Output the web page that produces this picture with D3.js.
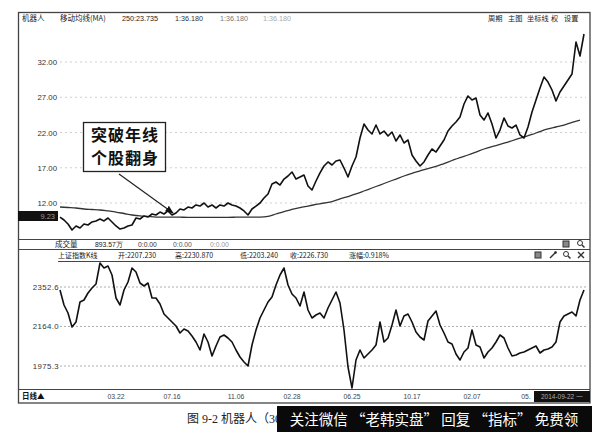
<!DOCTYPE html>
<html><head><meta charset="utf-8">
<script src="https://cdn.jsdelivr.net/npm/d3@7/dist/d3.min.js"></script>
<style>body{margin:0;background:#fff}svg{display:block}</style>
</head><body>
<svg id="c" width="600" height="432"></svg>
<script>
// ---- data ----
const priceClose = [10.01,9.59,9.02,8.17,8.74,8.45,9.02,8.88,9.31,9.45,9.73,9.45,9.87,9.31,8.74,8.31,8.45,8.74,8.88,9.87,
9.73,10.16,10.01,10.44,10.30,10.72,10.44,10.87,10.30,10.58,11.15,11.01,11.43,11.29,11.72,11.57,12.00,11.43,11.72,11.29,
11.72,11.57,12.00,11.72,11.57,11.29,10.87,10.30,11.15,11.57,12.00,12.71,13.28,14.70,14.98,14.55,15.40,15.83,16.40,15.40,
15.69,15.97,14.41,13.84,15.12,16.26,17.25,17.82,17.39,17.96,18.10,16.96,15.69,17.25,18.52,21.22,23.21,22.35,21.79,23.06,
21.79,22.21,21.50,22.07,20.79,21.65,20.51,20.94,18.81,17.96,17.25,17.82,18.81,19.66,19.23,20.09,20.94,22.21,22.92,23.49,
24.20,26.04,27.18,26.61,26.89,24.48,23.77,24.77,23.21,21.22,22.35,24.06,22.92,22.64,23.06,21.65,21.22,22.78,24.91,26.61,
28.31,29.87,29.16,28.03,26.47,27.74,28.60,29.45,30.30,34.84,32.85,35.97];
// 250-day moving average, one value every 2 samples
const ma250 = [11.43,11.36,11.29,11.15,11.08,11.01,10.87,10.72,10.51,10.30,10.16,10.09,10.01,10.01,10.01,9.99,9.97,9.97,9.97,9.97,
9.97,9.97,9.99,10.01,10.01,10.01,10.09,10.44,10.79,11.08,11.36,11.57,11.79,12.00,12.21,12.57,12.92,13.28,13.70,14.13,
14.55,14.98,15.40,15.83,16.21,16.54,16.89,17.18,17.60,18.03,18.45,18.81,19.23,19.66,20.01,20.30,20.65,21.01,21.36,21.72,
22.14,22.50,22.78,23.06,23.42,23.77];
const indexClose = [2338.3,2266.6,2228.4,2161.6,2185.4,2281.0,2290.5,2323.9,2347.8,2366.9,2467.2,2443.3,2452.9,2409.9,2300.1,2266.6,2338.3,2376.5,2443.3,2424.2,
2371.7,2357.4,2371.7,2300.1,2300.1,2271.4,2223.6,2204.5,2185.4,2166.3,2132.9,2152.0,2142.5,2118.6,2089.9,2051.7,2128.2,2089.9,2023.1,2070.8,
2113.8,2123.4,2109.0,2089.9,2051.7,2018.3,1994.4,1975.3,2075.6,2147.2,2204.5,2242.8,2281.0,2304.8,2362.2,2409.9,2443.3,2362.2,2319.2,2300.1,
2261.9,2328.7,2242.8,2204.5,2218.9,2228.4,2204.5,2252.3,2290.5,2328.7,2276.2,2147.2,1970.5,1870.2,2004.0,2051.7,2013.5,2032.6,2051.7,2075.6,
2185.4,2089.9,2109.0,2171.1,2242.8,2166.3,2214.1,2223.6,2185.4,2137.7,2113.8,2099.5,2190.2,2214.1,2238.0,2171.1,2132.9,2089.9,2080.4,2032.6,
2004.0,2042.2,2061.3,2147.2,2075.6,2066.0,2013.5,2042.2,2061.3,2089.9,2123.4,2109.0,2061.3,2023.1,2027.8,2037.4,2042.2,2051.7,2061.3,2070.8,
2037.4,2051.7,2056.5,2066.0,2089.9,2185.4,2214.1,2223.6,2233.2,2214.1,2290.5,2338.3];
const priceTicks = [32, 27, 22, 17, 12];
const indexTicks = [2352.6, 2164.0, 1975.3];
const dateLabels = ["03.22","07.16","11.06","02.28","06.25","10.17","02.07","05."];
const dateIdx = [14, 28, 44, 58, 73, 88, 103, 116.5];
const headerItems = ["机器人","移动均线(MA)","250:23.735","1:36.180","1:36.180","1:36.180"];
const menuItems = ["周期","主图","坐标线","权","设置"];
const volItems = ["成交量","893.57万","0:0.00","0:0.00","0:0.00"];
const idxItems = ["上证指数K线","开:2207.230","高:2230.870","低:2203.240","收:2226.730","涨幅:0.918%"];
const note = ["突破年线","个股翻身"];

// ---- drawing ----
const svg = d3.select("#c");
const N = priceClose.length;
const x = d3.scaleLinear().domain([0, N-1]).range([60, 584]);
const yP = d3.scaleLinear().domain([12, 32]).range([203, 62]);
const yI = d3.scaleLinear().domain([1975.3, 2352.6]).range([366, 287]);
const num = "'Liberation Sans', Arial, sans-serif";
const cjk = "'Noto Sans CJK SC', sans-serif";

const defs = svg.append("defs");
defs.append("marker").attr("id","arr").attr("viewBox","0 0 10 10")
  .attr("refX",9).attr("refY",5).attr("markerWidth",7).attr("markerHeight",7).attr("orient","auto")
  .append("path").attr("d","M0,1 L10,5 L0,9 z").attr("fill","#111");
defs.append("clipPath").attr("id","capclip").append("rect").attr("x",0).attr("y",404).attr("width",277).attr("height",28);

// frame
const frame = svg.append("g").attr("stroke","#444").attr("fill","none");
frame.append("rect").attr("x",18.5).attr("y",12.5).attr("width",571.5).attr("height",390.5).attr("stroke-width",1.3);
[239,249,389].forEach(v=>frame.append("line").attr("x1",18).attr("x2",590).attr("y1",v+0.5).attr("y2",v+0.5).attr("stroke-width",1.2));
frame.append("line").attr("x1",58).attr("x2",590).attr("y1",261.5).attr("y2",261.5).attr("stroke-width",1);

// header
const hx = [22, 60, 122, 175, 220, 263];
const hc = ["#222","#222","#222","#333","#777","#aaa"];
svg.append("g").selectAll("text").data(headerItems).join("text")
  .attr("x",(d,i)=>hx[i]).attr("y",21).attr("fill",(d,i)=>hc[i])
  .attr("font-family",(d,i)=>i<2?cjk:num).attr("font-size",(d,i)=>i<2?7.5:7.2).text(d=>d);
const mx = [488, 508, 527, 551, 564];
svg.append("g").selectAll("text").data(menuItems).join("text")
  .attr("x",(d,i)=>mx[i]).attr("y",21).attr("fill","#222").attr("font-family",cjk).attr("font-size",7.2).text(d=>d);

// price grid + ticks
const gP = svg.append("g");
gP.selectAll("line").data(priceTicks).join("line")
  .attr("x1",60).attr("x2",586).attr("y1",d=>yP(d)).attr("y2",d=>yP(d))
  .attr("stroke","#c4c4c4").attr("stroke-dasharray","2,3").attr("stroke-width",0.8);
gP.selectAll("text").data(priceTicks).join("text")
  .attr("x",57).attr("y",d=>yP(d)+3).attr("text-anchor","end").attr("fill","#333")
  .attr("font-family",num).attr("font-size",7.8).text(d=>d.toFixed(2));

// current-value box
svg.append("rect").attr("x",18).attr("y",211).attr("width",40).attr("height",10).attr("fill","#111");
svg.append("text").attr("x",55).attr("y",219).attr("text-anchor","end").attr("fill","#999")
  .attr("font-family",num).attr("font-size",7.5).text((9.23).toFixed(2));

// MA line
svg.append("path").datum(ma250)
  .attr("d", d3.line().x((d,i)=>x(i*2)).y(d=>yP(d)).curve(d3.curveMonotoneX))
  .attr("fill","none").attr("stroke","#333").attr("stroke-width",1.3);
// price line
svg.append("path").datum(priceClose)
  .attr("d", d3.line().x((d,i)=>x(i)).y(d=>yP(d)))
  .attr("fill","none").attr("stroke","#111").attr("stroke-width",1.6).attr("stroke-linejoin","round");

// annotation
svg.append("rect").attr("x",83.5).attr("y",122.5).attr("width",82).attr("height",49)
  .attr("fill","#fff").attr("stroke","#222").attr("stroke-width",1.3);
svg.append("g").selectAll("text").data(note).join("text")
  .attr("x",125).attr("y",(d,i)=>140.5+i*23.5).attr("text-anchor","middle").attr("fill","#111")
  .attr("font-family",cjk).attr("font-weight",700).attr("font-size",16).attr("letter-spacing",1)
  .text(d=>d);
svg.append("line").attr("x1",119).attr("y1",174).attr("x2",173).attr("y2",213)
  .attr("stroke","#222").attr("stroke-width",1.2).attr("marker-end","url(#arr)");

// volume row
const vx = [55, 95, 138, 173, 210];
const vc = ["#222","#222","#333","#555","#999"];
svg.append("g").selectAll("text").data(volItems).join("text")
  .attr("x",(d,i)=>vx[i]).attr("y",247).attr("fill",(d,i)=>vc[i])
  .attr("font-family",(d,i)=>i==0?cjk:num).attr("font-size",(d,i)=>i==0?7.5:6.8).text(d=>d);

// index header row
const ix = [58, 118, 175, 240, 290, 349];
svg.append("g").selectAll("text").data(idxItems).join("text")
  .attr("x",(d,i)=>ix[i]).attr("y",258).attr("fill","#222")
  .attr("font-family",cjk).attr("font-size",7).text(d=>d);

// small icons
function icon(cx, cy, kind){
  const g = svg.append("g").attr("stroke","#333").attr("fill","none").attr("stroke-width",1);
  if(kind==="save"){ g.append("rect").attr("x",cx-3).attr("y",cy-3).attr("width",6).attr("height",6).attr("fill","#888"); }
  else if(kind==="zoom"){ g.append("circle").attr("cx",cx-1).attr("cy",cy-1).attr("r",2.5); g.append("line").attr("x1",cx+1).attr("y1",cy+1).attr("x2",cx+3.5).attr("y2",cy+3.5).attr("stroke-width",1.5); }
  else if(kind==="x"){ g.append("path").attr("d",`M${cx-3},${cy-3}L${cx+3},${cy+3}M${cx+3},${cy-3}L${cx-3},${cy+3}`).attr("stroke-width",1.4); }
  else { g.append("path").attr("d",`M${cx-3},${cy+3}L${cx+2},${cy-2}`).attr("stroke-width",1.4); g.append("circle").attr("cx",cx+2.5).attr("cy",cy-2.5).attr("r",1).attr("fill","#333"); }
}
icon(566,244,"save"); icon(581,244,"zoom");
icon(538,255,"save"); icon(553,255,"wand"); icon(567,255,"zoom"); icon(581,255,"x");

// index grid + ticks
const gI = svg.append("g");
gI.selectAll("line").data(indexTicks).join("line")
  .attr("x1",60).attr("x2",586).attr("y1",d=>yI(d)).attr("y2",d=>yI(d))
  .attr("stroke","#9a9a9a").attr("stroke-dasharray","2,2").attr("stroke-width",0.8);
gI.selectAll("text").data(indexTicks).join("text")
  .attr("x",59).attr("y",d=>yI(d)+3).attr("text-anchor","end").attr("fill","#333")
  .attr("font-family",num).attr("font-size",7.8).attr("letter-spacing",0.4).text(d=>d.toFixed(1));

// index line
svg.append("path").datum(indexClose)
  .attr("d", d3.line().x((d,i)=>x(i)).y(d=>yI(d)))
  .attr("fill","none").attr("stroke","#111").attr("stroke-width",1.6).attr("stroke-linejoin","round");

// date axis
svg.append("text").attr("x",22).attr("y",399).attr("fill","#111").attr("font-family",cjk)
  .attr("font-weight",700).attr("font-size",7.5).text("日线▲");
svg.append("g").selectAll("text").data(dateLabels).join("text")
  .attr("x",(d,i)=>x(dateIdx[i])).attr("y",399).attr("text-anchor","middle").attr("fill","#444")
  .attr("font-family",num).attr("font-size",6.8).text(d=>d);
svg.append("rect").attr("x",534).attr("y",391).attr("width",56).attr("height",11).attr("fill","#111");
svg.append("text").attr("x",562).attr("y",399).attr("text-anchor","middle").attr("fill","#aaa")
  .attr("font-family",num).attr("font-size",6.5).text("2014-09-22 一");

// caption + banner
svg.append("text").attr("x",187).attr("y",423).attr("fill","#222").attr("clip-path","url(#capclip)")
  .attr("font-family","'Liberation Serif', 'Noto Sans CJK SC', serif").attr("font-size",12).text("图 9-2   机器人（30002");
svg.append("rect").attr("x",277).attr("y",406).attr("width",315).attr("height",26).attr("fill","#0a0a0a");
svg.append("text").attr("x",434).attr("y",425).attr("text-anchor","middle").attr("fill","#fff")
  .attr("font-family",cjk).attr("font-size",14.5).text("关注微信 “老韩实盘” 回复 “指标” 免费领");
</script>
</body></html>
